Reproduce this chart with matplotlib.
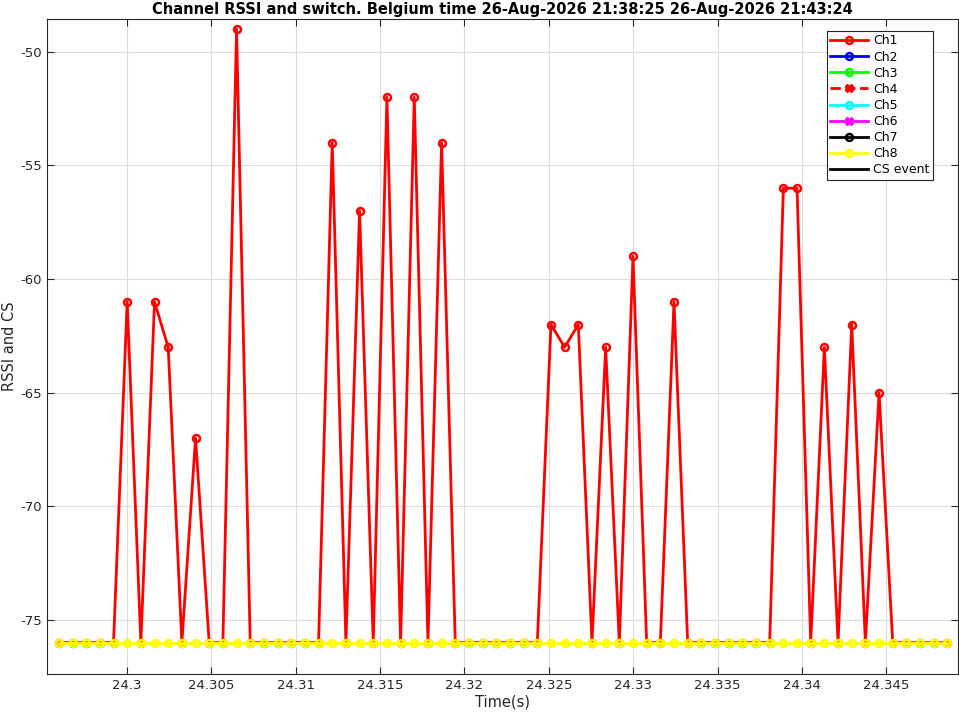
import matplotlib
matplotlib.use("Agg")
from matplotlib import pyplot as plt
from matplotlib.ticker import MultipleLocator, FuncFormatter

plt.rcParams['axes.unicode_minus'] = False
plt.rcParams['font.family'] = ['DejaVu Sans']

# sample times (s)
time_s = [24.29597, 24.29678, 24.29759, 24.29840, 24.29921, 24.30002, 24.30083, 24.30164,
          24.30245, 24.30326, 24.30407, 24.30488, 24.30569, 24.30650, 24.30731, 24.30812,
          24.30893, 24.30974, 24.31055, 24.31136, 24.31217, 24.31298, 24.31379, 24.31460,
          24.31541, 24.31622, 24.31703, 24.31784, 24.31865, 24.31946, 24.32027, 24.32108,
          24.32189, 24.32270, 24.32351, 24.32432, 24.32513, 24.32594, 24.32675, 24.32756,
          24.32837, 24.32918, 24.32999, 24.33080, 24.33161, 24.33242, 24.33323, 24.33404,
          24.33485, 24.33566, 24.33647, 24.33728, 24.33809, 24.33890, 24.33971, 24.34052,
          24.34133, 24.34214, 24.34295, 24.34376, 24.34457, 24.34538, 24.34619, 24.34700,
          24.34781, 24.34862]

# RSSI of channel 1
ch1 = [-76, -76, -76, -76, -76, -61, -76, -61, -63, -76,      # 0-9
       -67, -76, -76, -49, -76, -76, -76, -76, -76, -76,      # 10-19
       -54, -76, -57, -76, -52, -76, -52, -76, -54, -76,      # 20-29
       -76, -76, -76, -76, -76, -76, -62, -63, -62, -76,      # 30-39
       -63, -76, -59, -76, -76, -61, -76, -76, -76, -76,      # 40-49
       -76, -76, -76, -56, -56, -76, -63, -76, -62, -76,      # 50-59
       -65, -76, -76, -76, -76, -76]                          # 60-65

# channel 8 sits at the noise floor the whole time
ch8 = [-76] * len(time_s)

channels = ["Ch1", "Ch2", "Ch3", "Ch4", "Ch5", "Ch6", "Ch7", "Ch8"]
values = [ch1, [], [], [], [], [], [], ch8]
colors = ["red", "blue", "lime", "red", "cyan", "magenta", "black", "yellow"]
styles = ["-", "-", "-", "--", "-", "-", "-", "-"]
markers = ["o", "o", "o", "X", "o", "X", "o", "o"]

# CS events (none in this window)
cs_time = []
cs_value = []

fig = plt.figure(figsize=(9.59, 7.15), dpi=100)
ax = fig.add_axes([0.0485, 0.0573, 0.9505, 0.9157])

for name, y, c, ls, m in zip(channels, values, colors, styles, markers):
    x = time_s if len(y) else []
    if m == "X":
        ax.plot(x, y, ls, color=c, marker=m, markersize=6, mec=c, mfc=c,
                linewidth=2, label=name)
    else:
        ax.plot(x, y, ls, color=c, marker=m, markersize=5, mew=1.8,
                mfc="none", linewidth=2, label=name)
ax.plot(cs_time, cs_value, "-", color="black", linewidth=2, label="CS event")

ax.set_xlim(24.29524, 24.34925)
ax.set_ylim(-77.38, -48.57)
ax.xaxis.set_major_locator(MultipleLocator(0.005))
ax.xaxis.set_major_formatter(FuncFormatter(lambda v, p: "%g" % round(v, 6)))
ax.yaxis.set_major_locator(MultipleLocator(5))

ax.grid(True, color="#dcdcdc", linewidth=0.8)
ax.set_axisbelow(True)
ax.tick_params(direction="in", top=True, right=True, labelsize=9.5,
               colors="#262626", length=5)
for s in ax.spines.values():
    s.set_color("#262626")

ax.set_title("Channel RSSI and switch. Belgium time 26-Aug-2026 21:38:25 26-Aug-2026 21:43:24",
             fontsize=10.5, fontweight="bold", pad=4)
ax.set_xlabel("Time(s)", fontsize=10.5, color="#262626", labelpad=2)
ax.set_ylabel("RSSI and CS", fontsize=10.5, color="#262626", labelpad=2)

leg = ax.legend(loc="upper right", bbox_to_anchor=(933 / 959, 1 - 30.7 / 715),
                bbox_transform=fig.transFigure, borderaxespad=0, fontsize=9,
                fancybox=False, framealpha=1, edgecolor="#262626",
                handlelength=3, handletextpad=0.4, labelspacing=0.25,
                borderpad=0.3)
leg.get_frame().set_linewidth(0.8)

fig.savefig("out.png", dpi=100)
